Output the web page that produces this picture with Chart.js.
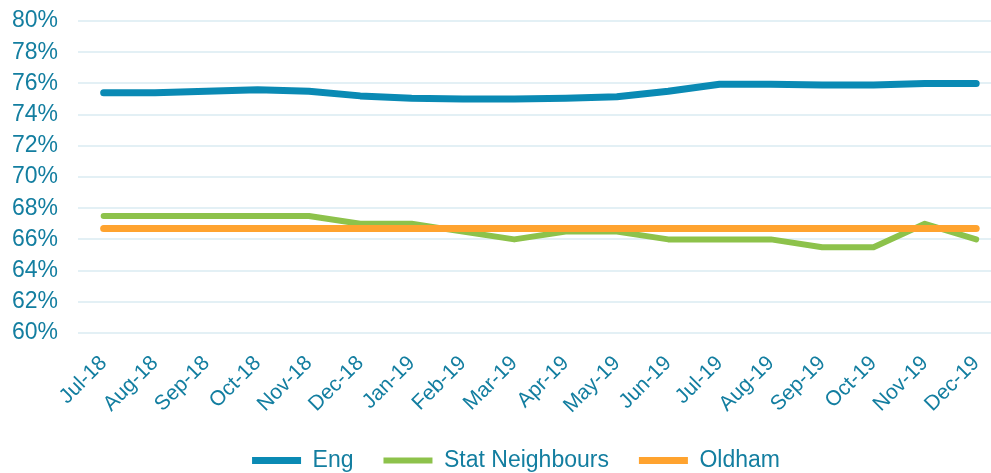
<!DOCTYPE html>
<html>
<head>
<meta charset="utf-8">
<script src="https://cdn.jsdelivr.net/npm/chart.js@4"></script>
<style>
    html, body { margin: 0; padding: 0; background: #fff; overflow: hidden; }
    #wrap { width: 1004px; height: 482px; }
</style>
</head>
<body>
<div id="wrap"><canvas id="lineChart"></canvas></div>
<script>
// Chart data
const months = ['Jul-18', 'Aug-18', 'Sep-18', 'Oct-18', 'Nov-18', 'Dec-18', 'Jan-19', 'Feb-19', 'Mar-19',
    'Apr-19', 'May-19', 'Jun-19', 'Jul-19', 'Aug-19', 'Sep-19', 'Oct-19', 'Nov-19', 'Dec-19'];
const engValues = [75.4, 75.4, 75.5, 75.6, 75.5, 75.2, 75.05, 75.0, 75.0,
    75.05, 75.15, 75.5, 75.95, 75.95, 75.9, 75.9, 76.0, 76.0];
const statValues = [67.5, 67.5, 67.5, 67.5, 67.5, 67.0, 67.0, 66.5, 66.0,
    66.5, 66.5, 66.0, 66.0, 66.0, 65.5, 65.5, 67.0, 66.0];
const oldhamValues = [66.7, 66.7, 66.7, 66.7, 66.7, 66.7, 66.7, 66.7, 66.7,
    66.7, 66.7, 66.7, 66.7, 66.7, 66.7, 66.7, 66.7, 66.7];
const yTicks = [60, 62, 64, 66, 68, 70, 72, 74, 76, 78, 80];

const textColor = '#137ea0';
const fontFamily = '"Liberation Sans", Arial, sans-serif';

// order: lower numbers are drawn on top (Oldham over Stat Neighbours)
function makeDataset(label, data, color, width, order) {
    return {
        label: label,
        data: data,
        order: order,
        borderColor: color,
        backgroundColor: color,
        borderWidth: width,
        borderCapStyle: 'round',
        borderJoinStyle: 'round',
        pointRadius: 0,
        pointHoverRadius: 0,
        tension: 0,
        fill: false
    };
}

// nudge the legend a little to the right, like the original
const legendShift = {
    id: 'legendShift',
    afterLayout(chart) {
        chart.legend.left += 14;
        chart.legend.right += 14;
    }
};

const ctx = document.getElementById('lineChart').getContext('2d');

new Chart(ctx, {
    type: 'line',
    data: {
        labels: months,
        datasets: [
            makeDataset('Eng', engValues, '#0a8ab4', 7, 3),
            makeDataset('Stat Neighbours', statValues, '#8dc24b', 6, 2),
            makeDataset('Oldham', oldhamValues, '#ffa32f', 7, 1)
        ]
    },
    plugins: [legendShift],
    options: {
        responsive: true,
        maintainAspectRatio: false,
        animation: false,
        layout: {
            padding: { top: 21, right: 0, bottom: 0, left: 0 }
        },
        scales: {
            x: {
                offset: true,
                grid: { display: false },
                border: { display: false },
                ticks: {
                    color: textColor,
                    font: { family: fontFamily, size: 21 },
                    minRotation: 45,
                    maxRotation: 45,
                    autoSkip: false,
                    padding: 10
                },
                afterFit: function(scale) {
                    scale.height = 86;
                }
            },
            y: {
                min: 60,
                max: 80,
                afterBuildTicks: function(scale) {
                    scale.ticks = yTicks.map(v => ({ value: v }));
                },
                grid: {
                    color: '#e3f0f5',
                    lineWidth: 2,
                    drawTicks: false
                },
                border: { display: false },
                ticks: {
                    color: textColor,
                    font: { family: fontFamily, size: 23 },
                    padding: 20,
                    autoSkip: false,
                    callback: value => value + '%'
                },
                afterFit: function(scale) {
                    scale.width = 78;
                    scale.paddingTop = 0;
                    scale.paddingBottom = 0;
                }
            }
        },
        plugins: {
            legend: {
                position: 'bottom',
                labels: {
                    color: textColor,
                    font: { family: fontFamily, size: 23 },
                    usePointStyle: true,
                    pointStyle: 'line',
                    pointStyleWidth: 49,
                    padding: 30,
                    sort: (a, b) => a.datasetIndex - b.datasetIndex
                }
            },
            tooltip: { enabled: false }
        }
    }
});
</script>
</body>
</html>
